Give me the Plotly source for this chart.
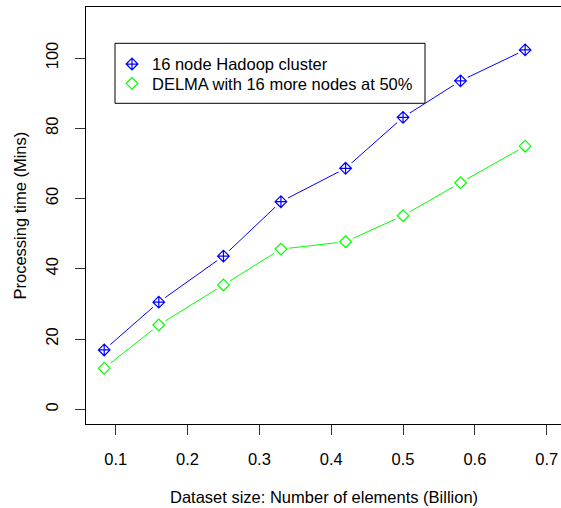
import plotly.graph_objects as go

dataset_size = [0.084, 0.16, 0.25, 0.33, 0.42, 0.50, 0.58, 0.67]
hadoop_time = [16.9, 30.5, 43.6, 59.1, 68.6, 83.1, 93.5, 102.3]
delma_time = [11.7, 24.0, 35.4, 45.6, 47.7, 55.1, 64.5, 74.9]
series_names = ["16 node Hadoop cluster", "DELMA with 16 more nodes at 50%"]
x_ticks = [0.1, 0.2, 0.3, 0.4, 0.5, 0.6, 0.7]
y_ticks = [0, 20, 40, 60, 80, 100]

BLUE = "#0000FF"
GREEN = "#00FF00"
FONT = "Liberation Sans, Arial, Helvetica, sans-serif"
FS = 16.5

# plot area in page pixels (page body margin removed below): x 86..562, y 7..424
FIG_W = 562
PX0, PX1, PY0, PY1 = 86, 562, 7, 424
PW, PH = PX1 - PX0, PY1 - PY0


def px(x):
    return (x - PX0) / PW


def py(y):
    return (PY1 - y) / PH


fig = go.Figure()
# connecting lines
for ys, col in [(hadoop_time, BLUE), (delma_time, GREEN)]:
    fig.add_trace(go.Scatter(x=dataset_size, y=ys, mode="lines",
                             line=dict(color=col, width=1), showlegend=False,
                             hoverinfo="skip"))
# white gaps around points (R type="b")
for ys in [hadoop_time, delma_time]:
    fig.add_trace(go.Scatter(x=dataset_size, y=ys, mode="markers",
                             marker=dict(symbol="circle", size=16, color="white",
                                         line=dict(width=0)),
                             showlegend=False, hoverinfo="skip"))
# point symbols
fig.add_trace(go.Scatter(x=dataset_size, y=hadoop_time, mode="markers",
                         name=series_names[0], legend="legend",
                         marker=dict(symbol="diamond-cross-open", size=9, color=BLUE,
                                     line=dict(width=1.2, color=BLUE))))
fig.add_trace(go.Scatter(x=dataset_size, y=delma_time, mode="markers",
                         name=series_names[1], legend="legend2",
                         marker=dict(symbol="diamond-open", size=9, color=GREEN,
                                     line=dict(width=1.2, color=GREEN))))

# legend box
fig.add_shape(type="rect", xref="paper", yref="paper",
              x0=px(115), x1=px(425), y0=py(103.3), y1=py(43.3),
              line=dict(color="black", width=1), fillcolor="white", layer="below")

fig.add_annotation(text="Dataset size: Number of elements (Billion)", xref="paper", yref="paper",
                   x=px(323.5), y=py(496.7), showarrow=False, xanchor="center",
                   yanchor="middle", font=dict(size=FS, color="black", family=FONT))
fig.add_annotation(text="Processing time (Mins)", xref="paper", yref="paper",
                   x=px(19), y=0.5, showarrow=False, textangle=-90,
                   xanchor="center", yanchor="middle",
                   font=dict(size=FS, color="black", family=FONT))

leg_common = dict(xanchor="left", yanchor="top", bgcolor="rgba(0,0,0,0)", borderwidth=0,
                  font=dict(size=FS, family=FONT, color="black"))

fig.update_layout(
    width=FIG_W, height=508,
    margin=dict(l=PX0, r=FIG_W - PX1, t=PY0, b=508 - PY1, autoexpand=False),
    paper_bgcolor="white", plot_bgcolor="rgba(0,0,0,0)",
    font=dict(family=FONT, size=FS, color="black"),
    showlegend=True,
    legend=dict(x=px(112), y=py(64 - 17.2), **leg_common),
    legend2=dict(x=px(112), y=py(83.3 - 17.2), **leg_common),
)
fig.update_xaxes(range=[0.1 - (115.7 - PX0) / 718.3, 0.7 + (PX1 - 546.7) / 718.3],
                 tickvals=x_ticks, ticktext=[str(v) for v in x_ticks], automargin=False,
                 showgrid=False, zeroline=False, showline=True, mirror=True,
                 linecolor="black", linewidth=1, ticks="outside", ticklen=10,
                 tickcolor="#333333", ticklabelstandoff=10,
                 tickfont=dict(size=FS, family=FONT, color="black"))
fig.update_yaxes(range=[-(PY1 - 409.3) / 3.513, 100 + (58 - PY0) / 3.513],
                 tickvals=y_ticks, ticktext=[str(v) for v in y_ticks], automargin=False,
                 showgrid=False, zeroline=False, showline=True, mirror=True,
                 linecolor="black", linewidth=1, ticks="outside", ticklen=10,
                 tickcolor="#333333", tickangle=-90, ticklabelstandoff=10,
                 tickfont=dict(size=FS, family=FONT, color="black"))

fig.write_html(
    "out.html",
    config={"displayModeBar": False},
    post_script="document.body.style.margin='0';document.body.style.overflow='hidden';",
)
